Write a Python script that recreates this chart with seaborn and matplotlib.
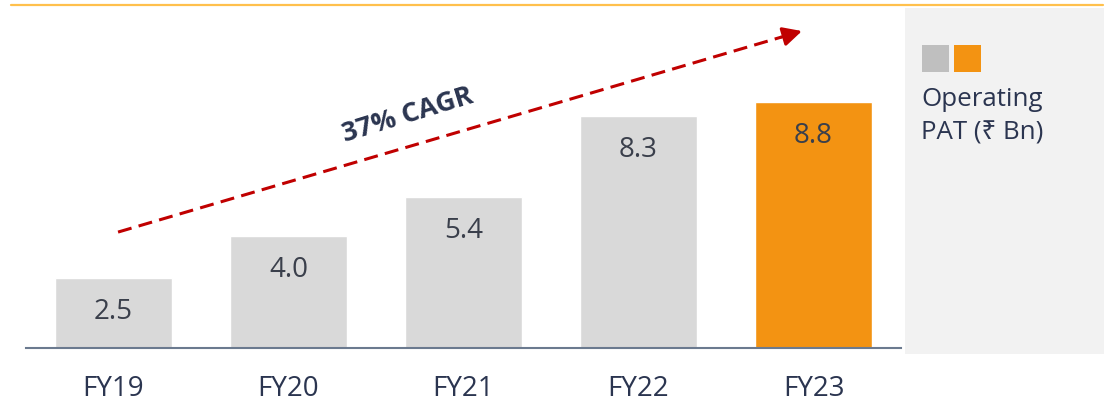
import matplotlib
matplotlib.use("Agg")
import matplotlib.pyplot as plt
import seaborn as sns
from matplotlib.patches import Rectangle
from matplotlib.lines import Line2D

# ---- data ----
categories = ["FY19", "FY20", "FY21", "FY22", "FY23"]
values = [2.5, 4.0, 5.4, 8.3, 8.8]
value_labels = ["2.5", "4.0", "5.4", "8.3", "8.8"]
legend_lines = ["Operating", "PAT (₹ Bn)"]
cagr_label = "37% CAGR"

GRAY = "#D9D9D9"
ORANGE = "#F39312"
NAVY = "#2B3550"
colors = [GRAY, GRAY, GRAY, GRAY, ORANGE]

sns.set_theme(style="white")
plt.rcParams["font.family"] = ["Open Sans", "Noto Sans", "DejaVu Sans"]

W, H = 1110, 406
fig = plt.figure(figsize=(W / 100, H / 100), dpi=100)

def fx(px):
    return px / W

def fy(py):
    return 1 - py / H

# gray legend panel
fig.patches.append(Rectangle((fx(905), fy(355)), fx(1104) - fx(905), fy(9) - fy(355),
                             transform=fig.transFigure, facecolor="#F2F2F2",
                             edgecolor="none", zorder=0))
# top orange rule
fig.lines.append(Line2D([fx(11), fx(1103)], [fy(6), fy(6)], transform=fig.transFigure,
                        color="#FFC04C", lw=1.6, zorder=1))

# axes: x from 26 to 901 px, y from 349 (baseline) to 9 px
ax = fig.add_axes([fx(26), fy(349), fx(901) - fx(26), fy(9) - fy(349)])
ax.set_facecolor("none")
sns.barplot(x=categories, y=values, hue=categories, palette=colors, legend=False,
            width=0.67, saturation=1, ax=ax)
ax.set_xlim(-0.5, 4.5)
ax.set_ylim(0, 340 / 28)

for s in ["top", "right", "left"]:
    ax.spines[s].set_visible(False)
ax.spines["bottom"].set_color("#6B7A8F")
ax.spines["bottom"].set_linewidth(1.5)
ax.set_yticks([])
ax.set_xlabel("")
ax.set_ylabel("")
ax.tick_params(axis="x", length=0, pad=19, labelsize=20, labelcolor=NAVY)

for i, (v, lab) in enumerate(zip(values, value_labels)):
    ax.text(i, v - 1.18, lab, ha="center", va="center", fontsize=20, color="#3A3F4B")

# CAGR arrow (dashed line + solid head)
x0, y0 = 0.026, 4.14
x1, y1 = 3.934, 11.32
xs, ys = x0 + (x1 - x0) * 0.97, y0 + (y1 - y0) * 0.97
ax.plot([x0, xs], [y0, ys], color="#C00000", lw=2.2, dashes=(4.6, 2.4), clip_on=False)
ax.annotate("", xy=(x1, y1), xytext=(xs, ys),
            arrowprops=dict(arrowstyle="-|>,head_length=0.95,head_width=0.48",
                            color="#C00000", lw=2.2, shrinkA=0, shrinkB=0),
            annotation_clip=False)
fig.text(fx(408), fy(115), cagr_label, ha="center", va="center", rotation=17,
         fontsize=19.5, fontweight="bold", color=NAVY)

# legend swatches and text
fig.patches.append(Rectangle((fx(922), fy(73)), fx(27), 27 / H, transform=fig.transFigure,
                             facecolor="#BFBFBF", edgecolor="none", zorder=2))
fig.patches.append(Rectangle((fx(954), fy(73)), fx(27), 27 / H, transform=fig.transFigure,
                             facecolor=ORANGE, edgecolor="none", zorder=2))
fig.text(fx(921), fy(99), legend_lines[0], ha="left", va="center", fontsize=18.6, color=NAVY)
fig.text(fx(921), fy(133), legend_lines[1], ha="left", va="center", fontsize=18.6, color=NAVY)

fig.savefig("out.png", dpi=100)
